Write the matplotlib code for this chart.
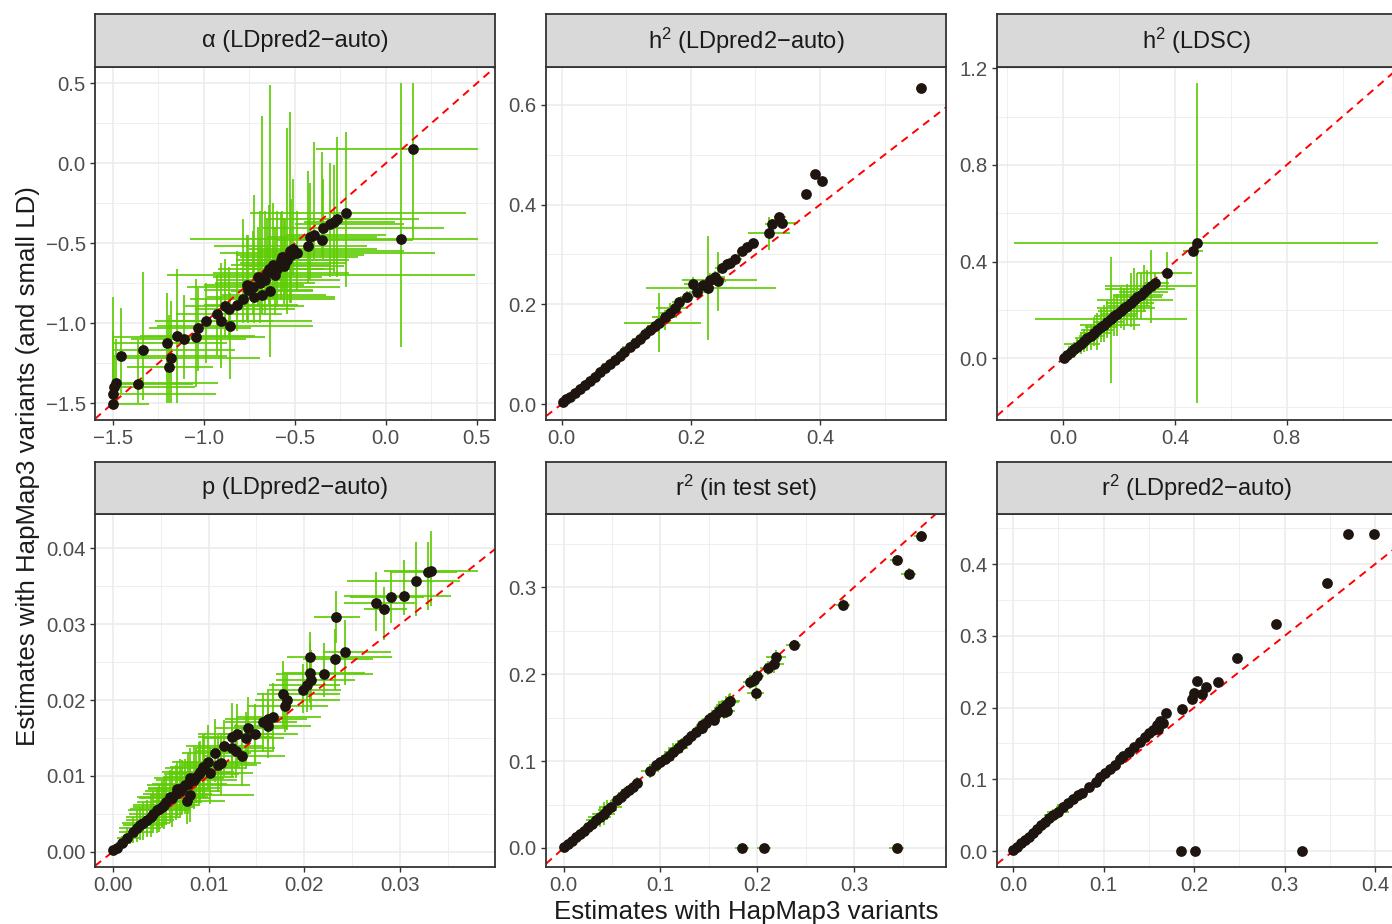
import matplotlib
matplotlib.use("Agg")
import matplotlib.pyplot as plt

plt.rcParams['font.family'] = ['Liberation Sans', 'DejaVu Sans']
plt.rcParams['axes.unicode_minus'] = True

# ---------------- data ----------------
titles = ["α (LDpred2−auto)", r"$\mathregular{h^2}$ (LDpred2−auto)", r"$\mathregular{h^2}$ (LDSC)",
          "p (LDpred2−auto)", r"$\mathregular{r^2}$ (in test set)", r"$\mathregular{r^2}$ (LDpred2−auto)"]

# alpha (LDpred2-auto)
a_x = [-1.500, -1.500, -1.493, -1.482, -1.456, -1.359, -1.335, -1.200, -1.181, -1.190,
       -1.148, -1.108, -1.042, -1.033, -0.989, -0.929, -0.907, -0.855, -0.883, -0.859,
       -0.819, -0.782, -0.755, -0.727, -0.723, -0.681, -0.663, -0.636, -0.654, -0.621,
       -0.599, -0.571, -0.544, -0.526, -0.507, -0.489, -0.700, -0.764, -0.608, -0.553,
       -0.429, -0.416, -0.394, -0.352, -0.342, -0.309, -0.287, -0.266, -0.218, 0.148,
       0.084, -0.575, -0.520, -0.640, -0.690, -0.560]
a_y = [-1.504, -1.440, -1.396, -1.371, -1.202, -1.379, -1.167, -1.125, -1.219, -1.275,
       -1.079, -1.100, -1.083, -1.027, -0.983, -0.942, -0.983, -1.015, -0.892, -0.913,
       -0.885, -0.850, -0.792, -0.771, -0.838, -0.823, -0.729, -0.798, -0.688, -0.635,
       -0.663, -0.583, -0.604, -0.546, -0.538, -0.563, -0.708, -0.760, -0.698, -0.625,
       -0.515, -0.458, -0.448, -0.479, -0.406, -0.379, -0.365, -0.350, -0.310, 0.092,
       -0.475, -0.605, -0.575, -0.660, -0.745, -0.640]
a_dxm = [0.000, 0.000, 0.007, 0.018, 0.044, 0.141, 0.165, 0.300, 0.259, 0.230,
         0.202, 0.292, 0.458, 0.267, 0.278, 0.221, 0.283, 0.403, 0.217, 0.191,
         0.181, 0.293, 0.245, 0.366, 0.257, 0.219, 0.267, 0.214, 0.296, 0.229,
         0.201, 0.229, 0.206, 0.174, 0.243, 0.421, 0.250, 0.236, 0.595, 0.247,
         0.514, 0.234, 0.156, 0.248, 0.330, 0.191, 0.163, 0.394, 0.527, 0.531,
         1.159, 0.250, 0.300, 0.280, 0.250, 0.220]
a_dxp = [0.200, 0.568, 0.443, 0.562, 0.586, 0.302, 0.507, 0.326, 0.491, 0.240,
         0.428, 0.338, 0.379, 0.293, 0.582, 0.359, 0.287, 0.458, 0.433, 0.359,
         0.339, 0.504, 0.355, 0.473, 0.443, 0.351, 0.413, 0.236, 0.454, 0.321,
         0.319, 0.421, 0.344, 0.626, 0.457, 0.760, 0.350, 0.314, 1.099, 0.333,
         0.325, 0.366, 0.394, 0.502, 0.662, 0.409, 0.337, 0.446, 0.658, 0.356,
         0.420, 0.350, 0.400, 0.300, 0.300, 0.330]
a_dym = [0.000, 0.060, 0.104, 0.129, 0.236, 0.121, 0.312, 0.375, 0.281, 0.225,
         0.421, 0.250, 0.317, 0.273, 0.267, 0.258, 0.297, 0.335, 0.198, 0.187,
         0.165, 0.150, 0.208, 0.179, 0.162, 0.117, 0.221, 0.412, 0.162, 0.215,
         0.237, 0.217, 0.336, 0.329, 0.162, 0.237, 0.192, 0.220, 0.252, 0.195,
         0.235, 0.272, 0.156, 0.104, 0.194, 0.329, 0.323, 0.358, 0.460, 0.572,
         0.671, 0.250, 0.300, 0.220, 0.250, 0.240]
a_dyp = [0.671, 0.390, 0.196, 0.271, 0.296, 0.275, 0.490, 0.313, 0.359, 0.325,
         0.417, 0.280, 0.363, 0.247, 0.233, 0.242, 0.363, 0.205, 0.292, 0.263,
         0.335, 0.500, 0.342, 0.351, 0.638, 1.119, 0.429, 1.288, 0.338, 0.385,
         0.363, 0.283, 0.823, 0.869, 0.438, 0.263, 0.308, 0.310, 0.298, 0.275,
         0.465, 0.333, 0.583, 0.552, 0.306, 0.379, 0.355, 0.513, 0.508, 0.408,
         0.975, 0.300, 0.350, 0.400, 0.450, 0.300]

# h2 (LDpred2-auto)
h2a_x = [0.0026, 0.0067, 0.0129, 0.0206, 0.0284, 0.0361, 0.0439, 0.0516, 0.0594, 0.0671,
         0.0748, 0.0826, 0.0903, 0.0965, 0.1058, 0.1135, 0.1213, 0.1290, 0.1368, 0.1445,
         0.1507, 0.1600, 0.1677, 0.1755, 0.1822, 0.1935, 0.2039, 0.2090, 0.2194, 0.2271,
         0.2297, 0.2374, 0.2426, 0.2477, 0.2555, 0.2606, 0.2684, 0.2787, 0.2865, 0.2968,
         0.3210, 0.3252, 0.3370, 0.3412, 0.3778, 0.3928, 0.4026, 0.5564]
h2a_y = [0.0047, 0.0094, 0.0147, 0.0227, 0.0308, 0.0388, 0.0468, 0.0548, 0.0635, 0.0716,
         0.0803, 0.0883, 0.0963, 0.1043, 0.1151, 0.1231, 0.1311, 0.1405, 0.1485, 0.1565,
         0.1619, 0.1739, 0.1833, 0.1920, 0.2054, 0.2140, 0.2408, 0.2254, 0.2388, 0.2321,
         0.2488, 0.2555, 0.2475, 0.2722, 0.2809, 0.2823, 0.2910, 0.3077, 0.3144, 0.3237,
         0.3425, 0.3605, 0.3759, 0.3625, 0.4207, 0.4609, 0.4475, 0.6334]
h2a_dxm = [0.002, 0.004, 0.006, 0.008, 0.008, 0.010, 0.008, 0.010, 0.008, 0.010,
           0.012, 0.010, 0.008, 0.010, 0.012, 0.010, 0.012, 0.010, 0.008, 0.012,
           0.054, 0.020, 0.015, 0.030, 0.012, 0.010, 0.015, 0.012, 0.015, 0.0965,
           0.044, 0.012, 0.010, 0.010, 0.008, 0.010, 0.008, 0.008, 0.008, 0.008,
           0.032, 0.010, 0.008, 0.010, 0.006, 0.006, 0.006, 0.008]
h2a_dxp = [0.003, 0.005, 0.006, 0.008, 0.010, 0.008, 0.010, 0.008, 0.012, 0.010,
           0.008, 0.012, 0.010, 0.008, 0.010, 0.012, 0.010, 0.012, 0.010, 0.010,
           0.065, 0.018, 0.012, 0.020, 0.015, 0.012, 0.012, 0.015, 0.012, 0.105,
           0.073, 0.015, 0.012, 0.010, 0.010, 0.008, 0.010, 0.008, 0.008, 0.008,
           0.0325, 0.012, 0.010, 0.025, 0.006, 0.006, 0.006, 0.008]
h2a_dym = [0.002, 0.004, 0.006, 0.008, 0.010, 0.008, 0.010, 0.008, 0.010, 0.008,
           0.010, 0.010, 0.008, 0.010, 0.008, 0.010, 0.012, 0.010, 0.008, 0.010,
           0.057, 0.025, 0.015, 0.012, 0.010, 0.012, 0.015, 0.012, 0.012, 0.104,
           0.015, 0.012, 0.060, 0.010, 0.010, 0.008, 0.010, 0.008, 0.008, 0.008,
           0.034, 0.010, 0.012, 0.008, 0.006, 0.006, 0.006, 0.008]
h2a_dyp = [0.003, 0.005, 0.006, 0.008, 0.008, 0.010, 0.008, 0.010, 0.008, 0.010,
           0.008, 0.010, 0.010, 0.008, 0.010, 0.008, 0.010, 0.012, 0.010, 0.008,
           0.060, 0.015, 0.020, 0.012, 0.010, 0.012, 0.015, 0.012, 0.012, 0.105,
           0.015, 0.012, 0.058, 0.010, 0.010, 0.008, 0.010, 0.008, 0.008, 0.008,
           0.033, 0.010, 0.010, 0.010, 0.006, 0.006, 0.006, 0.008]

# h2 (LDSC)
h2l_x = [0.0024, 0.0143, 0.0263, 0.0382, 0.0501, 0.0621, 0.0740, 0.0860, 0.0979, 0.1099,
         0.1218, 0.1337, 0.1457, 0.1576, 0.1696, 0.1815, 0.1934, 0.2054, 0.2173, 0.2293,
         0.2412, 0.2531, 0.2651, 0.2770, 0.2890, 0.3009, 0.3128, 0.3284, 0.3702, 0.4657,
         0.4776]
h2l_y = [0.0028, 0.0141, 0.0255, 0.0368, 0.0483, 0.0596, 0.0709, 0.0822, 0.0938, 0.1050,
         0.1164, 0.1277, 0.1390, 0.1503, 0.1618, 0.1731, 0.1844, 0.1959, 0.2072, 0.2185,
         0.2298, 0.2411, 0.2524, 0.2639, 0.2752, 0.2866, 0.2979, 0.3131, 0.3517, 0.4455,
         0.4759]
h2l_dxm = [0.002, 0.010, 0.025, 0.020, 0.035, 0.060, 0.030, 0.045, 0.040, 0.050,
           0.060, 0.055, 0.086, 0.050, 0.271, 0.070, 0.060, 0.080, 0.098, 0.070,
           0.090, 0.134, 0.080, 0.100, 0.090, 0.152, 0.164, 0.040, 0.107, 0.036,
           0.655]
h2l_dxp = [0.005, 0.015, 0.030, 0.025, 0.040, 0.070, 0.035, 0.040, 0.050, 0.060,
           0.055, 0.060, 0.129, 0.060, 0.272, 0.080, 0.070, 0.090, 0.111, 0.080,
           0.085, 0.141, 0.090, 0.080, 0.085, 0.099, 0.161, 0.050, 0.090, 0.036,
           0.650]
h2l_dym = [0.002, 0.015, 0.020, 0.035, 0.030, 0.040, 0.045, 0.050, 0.060, 0.055,
           0.080, 0.060, 0.070, 0.065, 0.262, 0.080, 0.090, 0.070, 0.090, 0.080,
           0.099, 0.124, 0.090, 0.100, 0.085, 0.070, 0.153, 0.040, 0.070, 0.020,
           0.662]
h2l_dyp = [0.004, 0.015, 0.025, 0.030, 0.035, 0.045, 0.050, 0.055, 0.050, 0.065,
           0.070, 0.075, 0.080, 0.085, 0.259, 0.090, 0.080, 0.100, 0.085, 0.090,
           0.122, 0.131, 0.100, 0.090, 0.110, 0.080, 0.150, 0.045, 0.090, 0.020,
           0.662]

# p (LDpred2-auto)
p_x = [0.03320, 0.03290, 0.03164, 0.03042, 0.02906, 0.02750, 0.02833, 0.02328, 0.02060, 0.02321,
       0.02429, 0.02207, 0.02060, 0.02071, 0.02026, 0.01984, 0.01782, 0.01817, 0.01800, 0.01670,
       0.01625, 0.01573, 0.01618, 0.01416, 0.01392, 0.01486, 0.01295, 0.01243, 0.01166, 0.01243,
       0.01288, 0.01347, 0.01068, 0.01131, 0.01103, 0.00999, 0.00947, 0.00912, 0.00870, 0.01016,
       0.00807, 0.00755, 0.00720, 0.00668, 0.00807, 0.00773, 0.00599, 0.00557, 0.00512, 0.00459,
       0.00418, 0.00355, 0.00285, 0.00216, 0.00146, 0.00094, 0.00042, 0.00007, 0.00250, 0.00320,
       0.00400, 0.00480, 0.00530, 0.00620, 0.00660, 0.00700, 0.00790, 0.00850, 0.00900, 0.00950]
p_y = [0.03705, 0.03684, 0.03570, 0.03371, 0.03354, 0.03275, 0.03196, 0.03099, 0.02571, 0.02541,
       0.02633, 0.02343, 0.02352, 0.02264, 0.02198, 0.02132, 0.02079, 0.02000, 0.01925, 0.01771,
       0.01745, 0.01714, 0.01657, 0.01626, 0.01495, 0.01547, 0.01552, 0.01516, 0.01393, 0.01363,
       0.01332, 0.01262, 0.01297, 0.01165, 0.01143, 0.01187, 0.01121, 0.01055, 0.00989, 0.01033,
       0.00967, 0.00879, 0.00835, 0.00822, 0.00747, 0.00673, 0.00725, 0.00659, 0.00593, 0.00550,
       0.00497, 0.00418, 0.00352, 0.00264, 0.00176, 0.00110, 0.00057, 0.00022, 0.00310, 0.00380,
       0.00460, 0.00560, 0.00620, 0.00710, 0.00760, 0.00800, 0.00900, 0.00950, 0.01030, 0.01100]
p_dxm = [0.0049, 0.0040, 0.0072, 0.0063, 0.0043, 0.0034, 0.0021, 0.0023, 0.0024, 0.0033,
         0.0023, 0.0050, 0.0028, 0.0037, 0.0040, 0.0035, 0.0028, 0.0033, 0.0040, 0.0038,
         0.0045, 0.0040, 0.0035, 0.0035, 0.0045, 0.0038, 0.0040, 0.0035, 0.0040, 0.0038,
         0.0042, 0.0040, 0.0035, 0.0040, 0.0038, 0.0038, 0.0035, 0.0040, 0.0035, 0.0040,
         0.0038, 0.0040, 0.0035, 0.0030, 0.0042, 0.0035, 0.0035, 0.0030, 0.0030, 0.0030,
         0.0025, 0.0022, 0.0018, 0.0015, 0.0010, 0.0006, 0.0003, 0.0000, 0.0018, 0.0022,
         0.0026, 0.0030, 0.0032, 0.0035, 0.0034, 0.0036, 0.0038, 0.0040, 0.0036, 0.0040]
p_dxp = [0.0049, 0.0030, 0.0046, 0.0049, 0.0034, 0.0041, 0.0024, 0.0025, 0.0085, 0.0040,
         0.0048, 0.0051, 0.0057, 0.0046, 0.0035, 0.0040, 0.0059, 0.0055, 0.0045, 0.0050,
         0.0040, 0.0035, 0.0045, 0.0040, 0.0040, 0.0045, 0.0038, 0.0042, 0.0040, 0.0045,
         0.0040, 0.0045, 0.0038, 0.0042, 0.0040, 0.0040, 0.0038, 0.0035, 0.0040, 0.0045,
         0.0035, 0.0068, 0.0040, 0.0035, 0.0067, 0.0040, 0.0040, 0.0038, 0.0035, 0.0032,
         0.0030, 0.0028, 0.0025, 0.0020, 0.0015, 0.0010, 0.0006, 0.0003, 0.0025, 0.0028,
         0.0030, 0.0034, 0.0036, 0.0040, 0.0038, 0.0042, 0.0040, 0.0045, 0.0042, 0.0044]
p_dym = [0.0047, 0.0050, 0.0046, 0.0025, 0.0034, 0.0037, 0.0041, 0.0035, 0.0031, 0.0041,
         0.0044, 0.0030, 0.0039, 0.0039, 0.0035, 0.0030, 0.0043, 0.0040, 0.0035, 0.0043,
         0.0035, 0.0040, 0.0042, 0.0035, 0.0040, 0.0038, 0.0042, 0.0035, 0.0040, 0.0038,
         0.0036, 0.0040, 0.0038, 0.0042, 0.0035, 0.0035, 0.0040, 0.0038, 0.0035, 0.0040,
         0.0036, 0.0038, 0.0035, 0.0035, 0.0035, 0.0030, 0.0035, 0.0030, 0.0028, 0.0030,
         0.0025, 0.0022, 0.0020, 0.0015, 0.0010, 0.0006, 0.0003, 0.0000, 0.0018, 0.0022,
         0.0026, 0.0030, 0.0032, 0.0038, 0.0034, 0.0036, 0.0040, 0.0038, 0.0042, 0.0040]
p_dyp = [0.0053, 0.0040, 0.0052, 0.0048, 0.0034, 0.0042, 0.0030, 0.0034, 0.0033, 0.0040,
         0.0042, 0.0041, 0.0042, 0.0040, 0.0032, 0.0035, 0.0043, 0.0035, 0.0040, 0.0045,
         0.0040, 0.0038, 0.0035, 0.0042, 0.0035, 0.0040, 0.0040, 0.0045, 0.0035, 0.0040,
         0.0035, 0.0038, 0.0045, 0.0038, 0.0040, 0.0048, 0.0042, 0.0040, 0.0038, 0.0035,
         0.0040, 0.0035, 0.0038, 0.0038, 0.0036, 0.0035, 0.0035, 0.0035, 0.0034, 0.0030,
         0.0030, 0.0026, 0.0024, 0.0020, 0.0015, 0.0010, 0.0005, 0.0003, 0.0024, 0.0028,
         0.0030, 0.0034, 0.0036, 0.0040, 0.0038, 0.0042, 0.0040, 0.0045, 0.0042, 0.0045]

# r2 (in test set)
r2t_x = [0.0000, 0.0041, 0.0082, 0.0124, 0.0165, 0.0206, 0.0247, 0.0288, 0.0330, 0.0371,
         0.0412, 0.0453, 0.0487, 0.0549, 0.0590, 0.0632, 0.0673, 0.0714, 0.0762, 0.0893,
         0.0951, 0.0996, 0.1044, 0.1088, 0.1133, 0.1181, 0.1226, 0.1270, 0.1318, 0.1363,
         0.1414, 0.1432, 0.1466, 0.1500, 0.1535, 0.1569, 0.1603, 0.1637, 0.1672, 0.1706,
         0.1723, 0.1689, 0.1552, 0.1655, 0.1432, 0.1922, 0.1964, 0.1998, 0.1984, 0.2108,
         0.2176, 0.2194, 0.2376, 0.2884, 0.3440, 0.3563, 0.3687, 0.1843, 0.2067, 0.3440]
r2t_y = [0.0008, 0.0046, 0.0084, 0.0123, 0.0161, 0.0199, 0.0238, 0.0280, 0.0318, 0.0357,
         0.0395, 0.0437, 0.0468, 0.0552, 0.0591, 0.0629, 0.0667, 0.0706, 0.0752, 0.0886,
         0.0955, 0.0990, 0.1020, 0.1063, 0.1105, 0.1155, 0.1197, 0.1243, 0.1289, 0.1335,
         0.1377, 0.1415, 0.1442, 0.1481, 0.1511, 0.1542, 0.1577, 0.1607, 0.1642, 0.1676,
         0.1695, 0.1580, 0.1473, 0.1561, 0.1377, 0.1914, 0.1933, 0.1983, 0.1788, 0.2068,
         0.2117, 0.2202, 0.2336, 0.2796, 0.3314, 0.3149, 0.3590, 0.0000, 0.0000, 0.0000]
r2t_dx = [0.000, 0.003, 0.004, 0.005, 0.006, 0.006, 0.005, 0.007, 0.010, 0.012,
          0.012, 0.010, 0.012, 0.006, 0.008, 0.007, 0.008, 0.007, 0.006, 0.009,
          0.007, 0.006, 0.007, 0.008, 0.010, 0.010, 0.008, 0.007, 0.006, 0.007,
          0.006, 0.007, 0.006, 0.007, 0.008, 0.008, 0.007, 0.008, 0.010, 0.011,
          0.010, 0.008, 0.006, 0.008, 0.006, 0.007, 0.007, 0.007, 0.009, 0.008,
          0.010, 0.010, 0.008, 0.007, 0.007, 0.008, 0.007, 0.007, 0.007, 0.008]
r2t_dy = [0.000, 0.003, 0.004, 0.005, 0.006, 0.006, 0.005, 0.007, 0.008, 0.012,
          0.013, 0.012, 0.008, 0.006, 0.007, 0.007, 0.006, 0.007, 0.006, 0.008,
          0.006, 0.006, 0.007, 0.008, 0.010, 0.009, 0.007, 0.006, 0.006, 0.007,
          0.006, 0.007, 0.006, 0.007, 0.008, 0.009, 0.009, 0.010, 0.011, 0.010,
          0.009, 0.008, 0.006, 0.008, 0.006, 0.008, 0.008, 0.007, 0.010, 0.008,
          0.010, 0.008, 0.006, 0.007, 0.006, 0.007, 0.006, 0.004, 0.004, 0.004]

# r2 (LDpred2-auto)
r2a_x = [0.0000, 0.0044, 0.0088, 0.0133, 0.0177, 0.0221, 0.0265, 0.0310, 0.0354, 0.0398,
         0.0442, 0.0498, 0.0553, 0.0608, 0.0664, 0.0719, 0.0756, 0.0841, 0.0914, 0.0959,
         0.1014, 0.1069, 0.1124, 0.1180, 0.1217, 0.1283, 0.1335, 0.1401, 0.1456, 0.1504,
         0.1548, 0.1585, 0.1622, 0.1659, 0.1688, 0.1604, 0.1869, 0.1972, 0.1998, 0.2028,
         0.2083, 0.2131, 0.2267, 0.2470, 0.2905, 0.3465, 0.3705, 0.3993, 0.1854, 0.2009,
         0.3196]
r2a_y = [0.0014, 0.0060, 0.0107, 0.0153, 0.0200, 0.0256, 0.0302, 0.0358, 0.0409, 0.0456,
         0.0502, 0.0549, 0.0619, 0.0665, 0.0721, 0.0781, 0.0814, 0.0888, 0.0967, 0.1028,
         0.1084, 0.1144, 0.1200, 0.1279, 0.1326, 0.1386, 0.1456, 0.1526, 0.1595, 0.1651,
         0.1688, 0.1758, 0.1819, 0.1781, 0.1921, 0.1698, 0.1977, 0.2121, 0.2209, 0.2377,
         0.2186, 0.2284, 0.2353, 0.2698, 0.3167, 0.3735, 0.4419, 0.4423, 0.0000, 0.0000,
         0.0000]
r2a_dx = [0, 0, 0, 0, 0, 0, 0, 0, 0, 0,
          0.010, 0.012, 0.008, 0, 0, 0, 0, 0, 0, 0,
          0, 0, 0, 0, 0, 0, 0, 0, 0, 0,
          0, 0, 0, 0, 0, 0, 0, 0, 0, 0,
          0, 0, 0, 0, 0, 0, 0, 0, 0, 0,
          0]
r2a_dy = [0, 0, 0, 0, 0, 0, 0, 0, 0, 0,
          0.008, 0.010, 0.006, 0, 0, 0, 0, 0, 0, 0,
          0, 0, 0, 0, 0, 0, 0, 0, 0, 0,
          0, 0, 0, 0, 0, 0, 0, 0, 0, 0,
          0, 0, 0, 0, 0, 0, 0, 0, 0, 0,
          0]

# axis limits and ticks
lims = [((-1.597, 0.600), (-1.604, 0.602)),
        ((-0.0243, 0.595), (-0.032, 0.676)),
        ((-0.2375, 1.195), (-0.255, 1.205)),
        ((-0.00185, 0.0399), (-0.0020, 0.04453)),
        ((-0.0182, 0.3949), (-0.0219, 0.3843)),
        ((-0.0180, 0.4243), (-0.0223, 0.4700))]
xticks = [[-1.5, -1.0, -0.5, 0.0, 0.5], [0.0, 0.2, 0.4], [0.0, 0.4, 0.8],
          [0.0, 0.01, 0.02, 0.03], [0.0, 0.1, 0.2, 0.3], [0.0, 0.1, 0.2, 0.3, 0.4]]
xticklabels = [["−1.5", "−1.0", "−0.5", "0.0", "0.5"], ["0.0", "0.2", "0.4"], ["0.0", "0.4", "0.8"],
               ["0.00", "0.01", "0.02", "0.03"], ["0.0", "0.1", "0.2", "0.3"],
               ["0.0", "0.1", "0.2", "0.3", "0.4"]]
yticks = [[-1.5, -1.0, -0.5, 0.0, 0.5], [0.0, 0.2, 0.4, 0.6], [0.0, 0.4, 0.8, 1.2],
          [0.0, 0.01, 0.02, 0.03, 0.04], [0.0, 0.1, 0.2, 0.3], [0.0, 0.1, 0.2, 0.3, 0.4]]
yticklabels = [["−1.5", "−1.0", "−0.5", "0.0", "0.5"], ["0.0", "0.2", "0.4", "0.6"],
               ["0.0", "0.4", "0.8", "1.2"], ["0.00", "0.01", "0.02", "0.03", "0.04"],
               ["0.0", "0.1", "0.2", "0.3"], ["0.0", "0.1", "0.2", "0.3", "0.4"]]
xminor = [[-1.25, -0.75, -0.25, 0.25], [0.1, 0.3, 0.5], [-0.2, 0.2, 0.6, 1.0],
          [0.005, 0.015, 0.025, 0.035], [0.05, 0.15, 0.25, 0.35], [0.05, 0.15, 0.25, 0.35]]
yminor = [[-1.25, -0.75, -0.25, 0.25], [0.1, 0.3, 0.5], [-0.2, 0.2, 0.6, 1.0],
          [0.005, 0.015, 0.025, 0.035], [0.05, 0.15, 0.25, 0.35], [0.05, 0.15, 0.25, 0.35, 0.45]]

xlabel = "Estimates with HapMap3 variants"
ylabel = "Estimates with HapMap3 variants (and small LD)"

# ---------------- styling ----------------
W, H = 1392, 924
GREEN = '#5FCD05'
PT = '#1E1410'
GRID = '#EBEBEB'
DARK = '#333333'
TICKTXT = '#4D4D4D'
FS_TICK = 14.7
FS_STRIP = 17.0
FS_TITLE = 18.6

fig = plt.figure(figsize=(W / 100, H / 100), dpi=100)
fig.patch.set_facecolor('white')

cols = [(95, 495), (546, 946), (997, 1397)]
rows = [((14, 67), (67, 420)), ((462, 514), (514, 867))]


def rect(l, t, r, b):
    return [l / W, 1 - b / H, (r - l) / W, (b - t) / H]


panels = [
    (a_x, a_y, [a_dxm, a_dxp], [a_dym, a_dyp]),
    (h2a_x, h2a_y, [h2a_dxm, h2a_dxp], [h2a_dym, h2a_dyp]),
    (h2l_x, h2l_y, [h2l_dxm, h2l_dxp], [h2l_dym, h2l_dyp]),
    (p_x, p_y, [p_dxm, p_dxp], [p_dym, p_dyp]),
    (r2t_x, r2t_y, [r2t_dx, r2t_dx], [r2t_dy, r2t_dy]),
    (r2a_x, r2a_y, [r2a_dx, r2a_dx], [r2a_dy, r2a_dy]),
]

for i, (x, y, xerr, yerr) in enumerate(panels):
    r, c = divmod(i, 3)
    (st, sb), (pt, pb) = rows[r]
    l, rr = cols[c]
    ax = fig.add_axes(rect(l, pt, rr, pb))
    ax.set_facecolor('white')
    ax.set_xlim(*lims[i][0])
    ax.set_ylim(*lims[i][1])
    ax.set_xticks(xticks[i])
    ax.set_xticklabels(xticklabels[i])
    ax.set_yticks(yticks[i])
    ax.set_yticklabels(yticklabels[i])
    ax.set_xticks(xminor[i], minor=True)
    ax.set_yticks(yminor[i], minor=True)
    ax.set_axisbelow(True)
    ax.grid(which='major', color=GRID, lw=1.1)
    ax.grid(which='minor', color=GRID, lw=0.55)
    ax.tick_params(which='minor', length=0)
    ax.tick_params(which='major', direction='out', length=3.6, width=1.0, color=DARK,
                   labelsize=FS_TICK, labelcolor=TICKTXT, pad=3.0)
    for s in ax.spines.values():
        s.set_color(DARK)
        s.set_linewidth(1.3)
        s.set_zorder(5)
    ax.axline((0, 0), slope=1, color='#FF0000', lw=1.4, ls=(0, (4, 3)), zorder=2.5)
    ax.errorbar(x, y, xerr=xerr, yerr=yerr, fmt='none', ecolor=GREEN, elinewidth=1.25,
                capsize=0, zorder=2)
    ax.scatter(x, y, s=60, c=PT, linewidths=0, zorder=3)

    sax = fig.add_axes(rect(l, st, rr, sb))
    sax.set_facecolor('#D9D9D9')
    sax.set_xticks([])
    sax.set_yticks([])
    for s in sax.spines.values():
        s.set_color(DARK)
        s.set_linewidth(1.3)
    sax.text(0.5, 0.5, titles[i], transform=sax.transAxes, ha='center', va='center',
             fontsize=FS_STRIP, color='#1A1A1A')

fig.text(746 / W, 1 - 919 / H, xlabel, ha='center', va='baseline', fontsize=FS_TITLE, color='#1A1A1A')
fig.text(35 / W, 1 - 466 / H, ylabel, ha='center', va='baseline', rotation=90,
         rotation_mode='anchor', fontsize=FS_TITLE, color='#1A1A1A')

fig.savefig('out.png', dpi=100)
